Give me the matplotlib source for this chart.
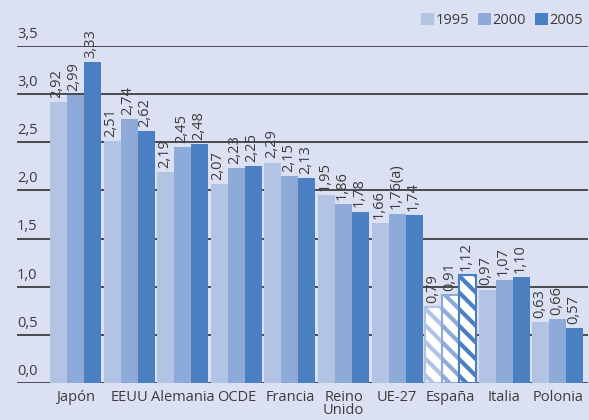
import numpy as np
import matplotlib.pyplot as plt
from matplotlib.patches import Patch

plt.rcParams['font.family'] = ['Open Sans', 'DejaVu Sans']
plt.rcParams['hatch.linewidth'] = 3.0

# Datos
paises = ['Japón', 'EEUU', 'Alemania', 'OCDE', 'Francia', 'Reino\nUnido',
          'UE-27', 'España', 'Italia', 'Polonia']
v1995 = [2.92, 2.51, 2.19, 2.07, 2.29, 1.95, 1.66, 0.79, 0.97, 0.63]
v2000 = [2.99, 2.74, 2.45, 2.23, 2.15, 1.86, 1.76, 0.91, 1.07, 0.66]
v2005 = [3.33, 2.62, 2.48, 2.25, 2.13, 1.78, 1.74, 1.12, 1.10, 0.57]
anios = ['1995', '2000', '2005']
colores = ['#b3c3e4', '#8eaad8', '#4a80c2']
yticks = [0.0, 0.5, 1.0, 1.5, 2.0, 2.5, 3.0, 3.5]

fondo = '#dbe1f2'
gris = '#3c3c3c'

fig = plt.figure(figsize=(5.89, 4.20), dpi=100, facecolor=fondo)
ax = fig.add_axes([17/589, 37/420, 571/589, 337/420])
ax.set_facecolor(fondo)

x = np.arange(len(paises))
ancho = 0.317
series = [v1995, v2000, v2005]

# lineas horizontales (por debajo de las barras)
for yt in yticks:
    ax.axhline(yt, color='#4a4a50', lw=1.4, zorder=0)
    ax.annotate(f'{yt:.1f}'.replace('.', ','), xy=(0, yt), xycoords=('axes fraction', 'data'),
                xytext=(0, 3), textcoords='offset points', ha='left', va='bottom',
                fontsize=10.5, color=gris)

for k, (vals, col) in enumerate(zip(series, colores)):
    pos = x + (k - 1) * ancho
    for i, (p, v) in enumerate(zip(pos, vals)):
        if paises[i] == 'España':
            ax.bar(p, v, ancho, color='white', edgecolor=col, hatch='\\\\',
                   linewidth=1.5, zorder=2)
        else:
            ax.bar(p, v, ancho, color=col, linewidth=0, zorder=2)
        etiqueta = f'{v:.2f}'.replace('.', ',')
        if paises[i] == 'UE-27' and k == 1:
            etiqueta += '(a)'
        ax.annotate(etiqueta, xy=(p, v), xytext=(-1, 3), textcoords='offset points',
                    rotation=90, ha='center', va='bottom', fontsize=10.5,
                    color=gris, annotation_clip=False, zorder=3)

ax.set_xlim(-1.09, 9.56)
ax.set_ylim(0, 3.5)
ax.set_yticks([])
ax.set_xticks(x)
ax.set_xticklabels(paises, fontsize=10.5, color=gris, linespacing=0.85)
ax.tick_params(axis='x', length=0, pad=5)
for s in ax.spines.values():
    s.set_visible(False)

handles = [Patch(facecolor=c, edgecolor='none') for c in colores]
fig.legend(handles, anios, loc='upper right', bbox_to_anchor=(1.012, 1.0), ncol=3,
           frameon=False, fontsize=10.5, handlelength=0.9, handleheight=0.9,
           handletextpad=0.1, columnspacing=0.6, labelcolor=gris)

fig.savefig('out.png', dpi=100, facecolor=fondo)
